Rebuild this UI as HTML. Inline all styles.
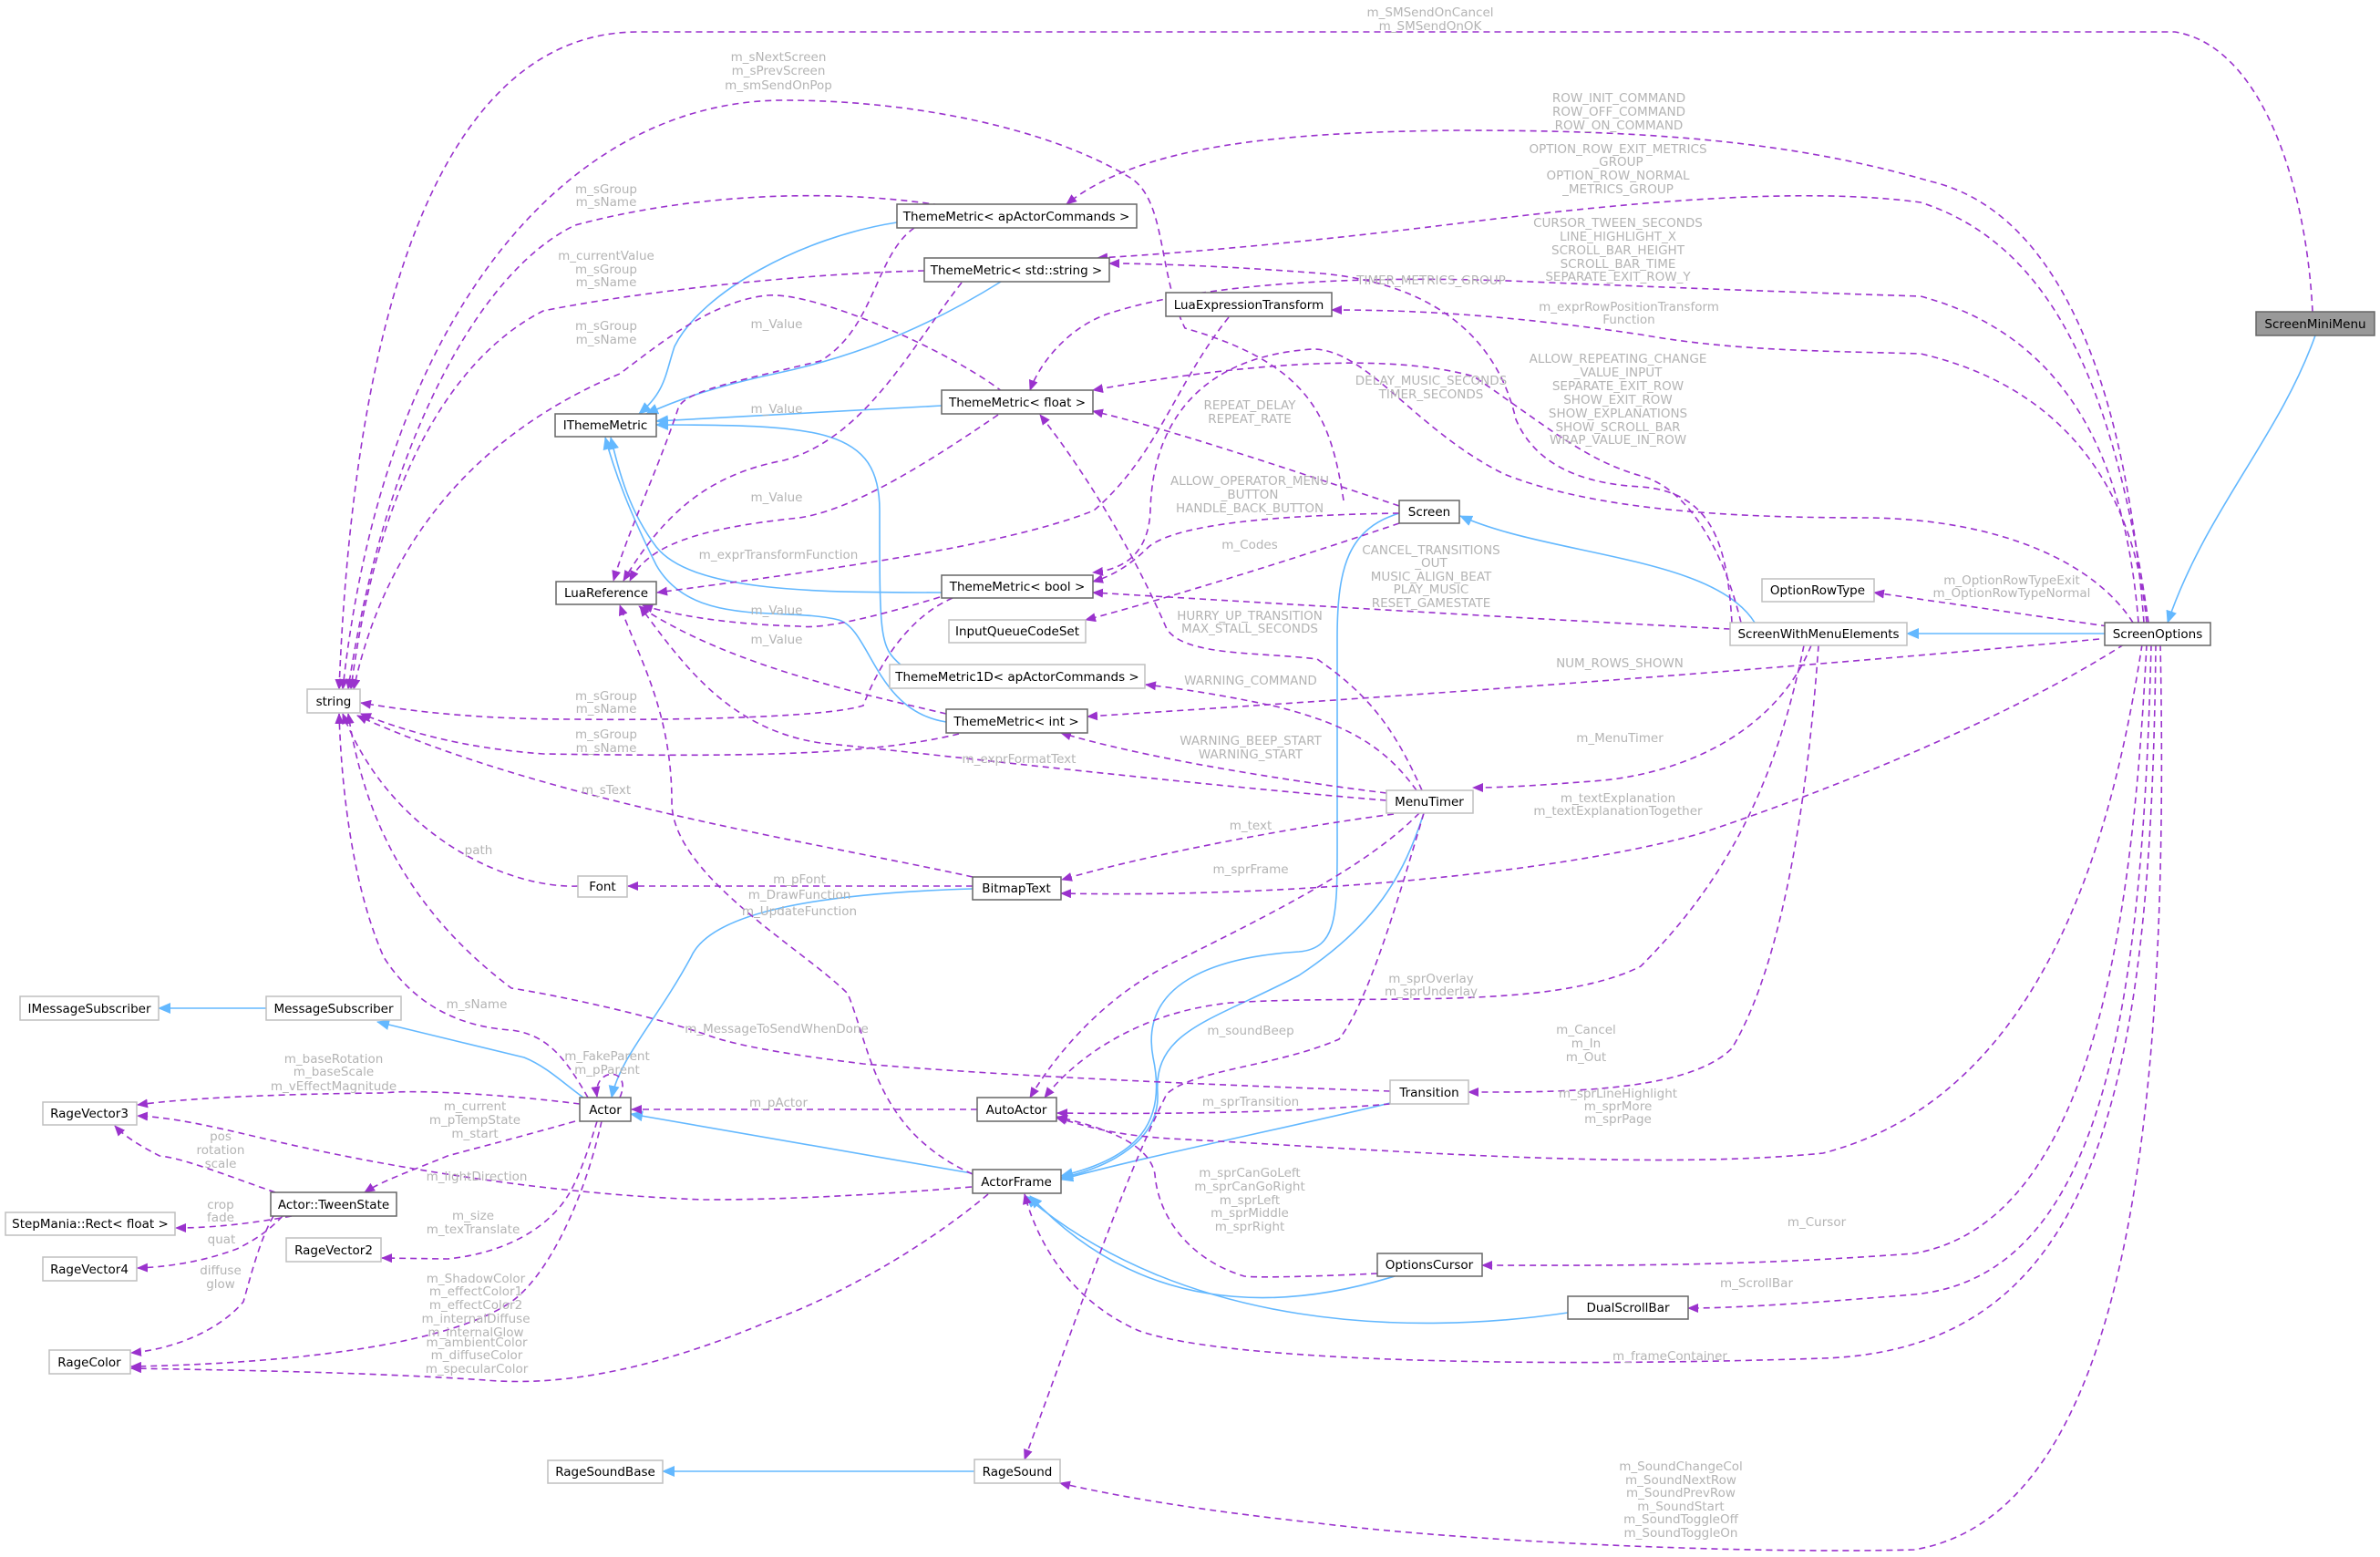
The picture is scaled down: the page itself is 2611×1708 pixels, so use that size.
<!DOCTYPE html>
<html><head><meta charset="utf-8"><style>
html,body{margin:0;padding:0;background:#fff}
svg{display:block}
.n rect{fill:#fff;stroke:#666;stroke-width:1.5}
.n.l rect{stroke:#bfbfbf}
.n text{font-family:"DejaVu Sans","Liberation Sans",sans-serif;font-size:13.5px;fill:#000;text-anchor:middle}
.p{fill:none;stroke:#9a32cd;stroke-width:1.6;stroke-dasharray:7,5;marker-end:url(#ap)}
.b{fill:none;stroke:#63b8ff;stroke-width:1.6;marker-end:url(#ab)}
.lb{font-family:"DejaVu Sans","Liberation Sans",sans-serif;font-size:13.5px;fill:#b4b4b4;text-anchor:middle}
</style></head><body>
<svg width="2611" height="1708" viewBox="0 0 2611 1708" xmlns="http://www.w3.org/2000/svg">
<defs>
<marker id="ap" markerWidth="12" markerHeight="10" refX="11" refY="5" orient="auto" markerUnits="userSpaceOnUse"><path d="M0,0 L12,5 L0,10 z" fill="#9a32cd"/></marker>
<marker id="ab" markerWidth="14" markerHeight="12" refX="13" refY="6" orient="auto" markerUnits="userSpaceOnUse"><path d="M0,0 L14,6 L0,12 z" fill="#63b8ff"/></marker>
</defs>

<!-- blue edges -->
<path class="b" d="M2540,368 C2500,480 2420,560 2378,683"/>
<path class="b" d="M2309,695 L2092,695"/>
<path class="b" d="M1925,683 C1880,610 1700,610 1602,566"/>
<path class="b" d="M1535,563 C1480,580 1467,620 1467,700 L1467,900 C1467,1000 1470,1040 1425,1044 C1330,1050 1250,1080 1265,1160 C1280,1230 1250,1270 1164,1290"/>
<path class="b" d="M1562,892 C1540,960 1510,1014 1425,1070 C1330,1120 1265,1130 1270,1200 C1272,1250 1220,1280 1164,1292"/>
<path class="b" d="M1525,1210 C1400,1240 1250,1270 1164,1294"/>
<path class="b" d="M1530,1400 C1400,1440 1250,1440 1130,1312"/>
<path class="b" d="M1720,1440 C1550,1465 1300,1460 1125,1312"/>
<path class="b" d="M1066,1287 L692,1222"/>
<path class="b" d="M1067,975 C900,980 780,1000 758,1050 C720,1120 680,1160 671,1204"/>
<path class="b" d="M640,1204 C620,1190 600,1170 575,1160 L414,1121"/>
<path class="b" d="M292,1106 L174,1106"/>
<path class="b" d="M984,244 C880,260 770,320 740,380 C730,410 730,430 701,454"/>
<path class="b" d="M1098,309 C1000,370 920,395 850,410 C780,425 740,440 709,454"/>
<path class="b" d="M1033,445 L720,462"/>
<path class="b" d="M1033,650 C900,650 760,650 720,600 C690,560 680,520 670,480"/>
<path class="b" d="M1038,792 C960,780 955,690 920,680 C860,665 760,690 720,620 C690,560 675,520 664,480"/>
<path class="b" d="M989,730 C965,710 965,700 965,560 C965,470 900,466 720,466"/>
<path class="b" d="M1069,1614 L727,1614"/>

<!-- purple edges -->
<path class="p" d="M2537,342 C2530,200 2480,50 2386,35 L700,35 C500,35 390,300 372,756"/>
<path class="p" d="M2352,683 C2330,400 2250,230 2118,199 C1960,153 1800,143 1600,143 C1400,145 1250,160 1170,224"/>
<path class="p" d="M2357,683 C2320,420 2250,268 2107,222 C1980,205 1800,220 1600,245 C1400,270 1260,280 1204,283"/>
<path class="p" d="M2346,683 C2330,480 2252,364 2107,325 C1950,320 1850,316 1700,310 C1500,300 1320,310 1216,344 C1170,360 1140,400 1130,428"/>
<path class="p" d="M2355,683 C2340,520 2250,421 2107,388 C2000,385 1900,385 1800,367 C1650,345 1550,340 1461,340"/>
<path class="p" d="M2340,683 C2300,620 2200,570 2050,568 C1900,568 1750,560 1650,520 C1550,470 1500,383 1440,383 C1330,390 1265,450 1262,560 C1260,610 1230,625 1199,628"/>
<path class="p" d="M2312,687 L2056,650"/>
<path class="p" d="M2303,701 C2000,730 1600,760 1193,786"/>
<path class="p" d="M2330,707 C2200,790 2000,870 1863,915 C1700,960 1400,985 1164,980"/>
<path class="p" d="M2350,707 C2320,900 2250,1200 2000,1265 C1800,1285 1500,1260 1283,1249 C1220,1245 1190,1235 1159,1226"/>
<path class="p" d="M2355,707 C2340,1000 2300,1340 2100,1375 C1900,1390 1750,1388 1626,1388"/>
<path class="p" d="M2360,707 C2350,1100 2310,1400 2100,1420 C1980,1430 1900,1435 1852,1435"/>
<path class="p" d="M2365,707 C2360,1200 2300,1480 2000,1490 C1700,1500 1350,1495 1250,1460 C1180,1430 1140,1370 1124,1310"/>
<path class="p" d="M2370,707 C2380,1200 2340,1660 2100,1700 C1900,1705 1600,1690 1447,1671 C1300,1655 1220,1640 1163,1627"/>
<path class="p" d="M1995,708 C1985,850 1960,1050 1900,1150 C1850,1200 1700,1198 1611,1198"/>
<path class="p" d="M1979,708 C1950,850 1900,960 1800,1060 C1700,1110 1500,1090 1350,1100 C1250,1110 1180,1160 1146,1204"/>
<path class="p" d="M1987,708 C1950,800 1850,850 1747,857 C1680,862 1650,864 1616,864"/>
<path class="p" d="M1898,690 C1700,680 1450,665 1199,650"/>
<path class="p" d="M1910,683 C1890,600 1850,535 1800,522 C1740,505 1700,470 1617,413 C1500,380 1300,410 1199,428"/>
<path class="p" d="M1900,683 C1895,600 1880,540 1800,534 C1720,530 1680,500 1663,460 C1640,360 1560,310 1450,300 C1350,292 1260,289 1217,289"/>
<path class="p" d="M1535,555 C1400,510 1280,470 1199,451"/>
<path class="p" d="M1535,563 C1400,565 1290,575 1260,600 C1240,620 1220,632 1199,638"/>
<path class="p" d="M1535,574 C1400,620 1250,665 1191,680"/>
<path class="p" d="M1474,549 C1460,460 1440,400 1300,360 C1270,300 1280,220 1240,195 C1150,140 1000,110 860,110 C620,110 420,350 376,756"/>
<path class="p" d="M1031,225 C900,205 750,215 631,247 C520,300 420,500 382,756"/>
<path class="p" d="M1014,297 C880,300 700,320 596,341 C480,400 410,560 385,756"/>
<path class="p" d="M1100,430 C1050,390 900,320 842,324 C780,330 720,380 680,410 C560,460 430,560 388,756"/>
<path class="p" d="M1003,250 C960,280 960,360 900,396 C800,420 750,430 744,448 C720,520 690,580 673,637"/>
<path class="p" d="M1055,310 C1000,380 950,480 860,505 C780,520 730,560 684,637"/>
<path class="p" d="M1095,455 C1000,520 930,560 877,568 C760,580 710,600 691,637"/>
<path class="p" d="M1348,348 C1290,420 1270,500 1200,560 C1100,600 900,626 721,650"/>
<path class="p" d="M1031,655 C950,680 900,690 877,687 C800,685 740,675 705,664"/>
<path class="p" d="M1038,783 C940,760 800,730 701,665"/>
<path class="p" d="M1045,656 C990,680 960,740 947,774 C900,789 700,790 631,789 C520,789 450,780 396,771"/>
<path class="p" d="M1052,805 C950,830 800,830 596,827 C500,820 440,800 396,783"/>
<path class="p" d="M1067,962 C900,925 600,880 392,785"/>
<path class="p" d="M634,972 C560,975 430,920 376,783"/>
<path class="p" d="M1067,972 L689,972"/>
<path class="p" d="M1067,1288 C960,1240 955,1150 930,1090 C880,1040 737,960 737,880 C737,780 700,720 680,664"/>
<path class="p" d="M645,1204 C620,1160 600,1135 561,1130 C480,1125 440,1080 421,1050 C390,980 375,880 372,783"/>
<path class="p" d="M680,1204 C695,1170 650,1170 655,1203"/>
<path class="p" d="M636,1211 C550,1200 450,1195 421,1199 C300,1200 200,1205 151,1212"/>
<path class="p" d="M631,1230 C560,1250 520,1260 491,1268 C450,1285 420,1295 400,1308"/>
<path class="p" d="M655,1230 C640,1280 630,1300 624,1310 C600,1350 550,1375 491,1381 L419,1380"/>
<path class="p" d="M660,1230 C640,1320 600,1400 561,1428 C500,1470 350,1495 144,1499"/>
<path class="p" d="M1084,1310 C1000,1380 900,1430 842,1450 C700,1510 600,1520 533,1514 C400,1505 250,1503 144,1501"/>
<path class="p" d="M1066,1302 C900,1316 800,1316 772,1316 C600,1310 420,1280 281,1247 C230,1235 190,1226 151,1224"/>
<path class="p" d="M302,1308 C250,1290 200,1270 175,1268 C150,1255 135,1245 126,1235"/>
<path class="p" d="M320,1334 C260,1345 220,1347 193,1347"/>
<path class="p" d="M310,1334 C295,1350 280,1360 260,1370 C220,1385 180,1390 151,1391"/>
<path class="p" d="M300,1334 C285,1360 275,1400 267,1428 C240,1460 190,1480 144,1484"/>
<path class="p" d="M1072,1217 L693,1217"/>
<path class="p" d="M1525,1197 C1300,1189 1100,1180 947,1167 C850,1155 800,1145 772,1134 C700,1110 600,1090 561,1084 C450,1000 400,900 382,783"/>
<path class="p" d="M1525,1211 C1400,1222 1250,1222 1160,1221"/>
<path class="p" d="M1511,1397 C1450,1400 1380,1402 1365,1400 C1300,1380 1270,1330 1267,1288 C1260,1250 1200,1235 1160,1225"/>
<path class="p" d="M1529,893 C1400,910 1250,940 1165,965"/>
<path class="p" d="M1557,892 C1500,950 1400,1000 1283,1058 C1200,1100 1150,1170 1130,1204"/>
<path class="p" d="M1562,892 C1530,1000 1500,1100 1469,1140 C1400,1170 1310,1173 1280,1200 C1230,1300 1180,1450 1124,1601"/>
<path class="p" d="M1554,867 C1520,820 1480,795 1400,775 C1330,760 1290,755 1257,751"/>
<path class="p" d="M1521,870 C1400,855 1250,830 1164,804"/>
<path class="p" d="M1521,878 C1300,860 1050,830 900,815 C800,800 750,730 702,665"/>
<path class="p" d="M1560,867 C1530,800 1503,763 1445,723 C1380,715 1300,720 1280,690 C1250,620 1200,530 1141,455"/>

<!-- labels -->
<g class="lb">
<text x="1569" y="18">m_SMSendOnCancel</text><text x="1569" y="33">m_SMSendOnOK</text>
<text x="1776" y="112">ROW_INIT_COMMAND</text><text x="1776" y="127">ROW_OFF_COMMAND</text><text x="1776" y="142">ROW_ON_COMMAND</text>
<text x="1775" y="168">OPTION_ROW_EXIT_METRICS</text><text x="1775" y="182">_GROUP</text><text x="1775" y="197">OPTION_ROW_NORMAL</text><text x="1775" y="212">_METRICS_GROUP</text>
<text x="1775" y="249">CURSOR_TWEEN_SECONDS</text><text x="1775" y="264">LINE_HIGHLIGHT_X</text><text x="1775" y="279">SCROLL_BAR_HEIGHT</text><text x="1775" y="294">SCROLL_BAR_TIME</text><text x="1775" y="308">SEPARATE_EXIT_ROW_Y</text>
<text x="1570" y="312">TIMER_METRICS_GROUP</text>
<text x="1787" y="341">m_exprRowPositionTransform</text><text x="1787" y="355">Function</text>
<text x="1775" y="398">ALLOW_REPEATING_CHANGE</text><text x="1775" y="413">_VALUE_INPUT</text><text x="1775" y="428">SEPARATE_EXIT_ROW</text><text x="1775" y="443">SHOW_EXIT_ROW</text><text x="1775" y="458">SHOW_EXPLANATIONS</text><text x="1775" y="473">SHOW_SCROLL_BAR</text><text x="1775" y="487">WRAP_VALUE_IN_ROW</text>
<text x="2207" y="641">m_OptionRowTypeExit</text><text x="2207" y="655">m_OptionRowTypeNormal</text>
<text x="1777" y="732">NUM_ROWS_SHOWN</text>
<text x="1775" y="880">m_textExplanation</text><text x="1775" y="894">m_textExplanationTogether</text>
<text x="1775" y="1204">m_sprLineHighlight</text><text x="1775" y="1218">m_sprMore</text><text x="1775" y="1232">m_sprPage</text>
<text x="1993" y="1345">m_Cursor</text>
<text x="1927" y="1412">m_ScrollBar</text>
<text x="1832" y="1492">m_frameContainer</text>
<text x="1844" y="1613">m_SoundChangeCol</text><text x="1844" y="1628">m_SoundNextRow</text><text x="1844" y="1642">m_SoundPrevRow</text><text x="1844" y="1657">m_SoundStart</text><text x="1844" y="1671">m_SoundToggleOff</text><text x="1844" y="1686">m_SoundToggleOn</text>
<text x="1740" y="1134">m_Cancel</text><text x="1740" y="1149">m_In</text><text x="1740" y="1164">m_Out</text>
<text x="1570" y="1078">m_sprOverlay</text><text x="1570" y="1092">m_sprUnderlay</text>
<text x="1777" y="814">m_MenuTimer</text>
<text x="1570" y="608">CANCEL_TRANSITIONS</text><text x="1570" y="622">_OUT</text><text x="1570" y="637">MUSIC_ALIGN_BEAT</text><text x="1570" y="651">PLAY_MUSIC</text><text x="1570" y="666">RESET_GAMESTATE</text>
<text x="1570" y="422">DELAY_MUSIC_SECONDS</text><text x="1570" y="437">TIMER_SECONDS</text>
<text x="1371" y="449">REPEAT_DELAY</text><text x="1371" y="464">REPEAT_RATE</text>
<text x="1371" y="532">ALLOW_OPERATOR_MENU</text><text x="1371" y="547">_BUTTON</text><text x="1371" y="562">HANDLE_BACK_BUTTON</text>
<text x="1371" y="602">m_Codes</text>
<text x="1371" y="680">HURRY_UP_TRANSITION</text><text x="1371" y="694">MAX_STALL_SECONDS</text>
<text x="1372" y="751">WARNING_COMMAND</text>
<text x="1372" y="817">WARNING_BEEP_START</text><text x="1372" y="832">WARNING_START</text>
<text x="1118" y="837">m_exprFormatText</text>
<text x="1372" y="910">m_text</text>
<text x="1372" y="958">m_sprFrame</text>
<text x="1372" y="1135">m_soundBeep</text>
<text x="1372" y="1213">m_sprTransition</text>
<text x="1371" y="1291">m_sprCanGoLeft</text><text x="1371" y="1306">m_sprCanGoRight</text><text x="1371" y="1321">m_sprLeft</text><text x="1371" y="1335">m_sprMiddle</text><text x="1371" y="1350">m_sprRight</text>
<text x="854" y="67">m_sNextScreen</text><text x="854" y="82">m_sPrevScreen</text><text x="854" y="98">m_smSendOnPop</text>
<text x="665" y="212">m_sGroup</text><text x="665" y="226">m_sName</text>
<text x="665" y="285">m_currentValue</text><text x="665" y="300">m_sGroup</text><text x="665" y="314">m_sName</text>
<text x="665" y="362">m_sGroup</text><text x="665" y="377">m_sName</text>
<text x="852" y="360">m_Value</text>
<text x="852" y="453">m_Value</text>
<text x="852" y="550">m_Value</text>
<text x="854" y="613">m_exprTransformFunction</text>
<text x="852" y="674">m_Value</text>
<text x="852" y="706">m_Value</text>
<text x="665" y="768">m_sGroup</text><text x="665" y="782">m_sName</text>
<text x="665" y="810">m_sGroup</text><text x="665" y="825">m_sName</text>
<text x="665" y="871">m_sText</text>
<text x="525" y="937">path</text>
<text x="877" y="969">m_pFont</text><text x="877" y="986">m_DrawFunction</text><text x="877" y="1004">m_UpdateFunction</text>
<text x="523" y="1106">m_sName</text>
<text x="852" y="1133">m_MessageToSendWhenDone</text>
<text x="666" y="1163">m_FakeParent</text><text x="666" y="1178">m_pParent</text>
<text x="366" y="1166">m_baseRotation</text><text x="366" y="1180">m_baseScale</text><text x="366" y="1196">m_vEffectMagnitude</text>
<text x="521" y="1218">m_current</text><text x="521" y="1233">m_pTempState</text><text x="521" y="1248">m_start</text>
<text x="854" y="1214">m_pActor</text>
<text x="523" y="1295">m_lightDirection</text>
<text x="242" y="1251">pos</text><text x="242" y="1266">rotation</text><text x="242" y="1281">scale</text>
<text x="242" y="1326">crop</text><text x="242" y="1340">fade</text>
<text x="243" y="1364">quat</text>
<text x="242" y="1398">diffuse</text><text x="242" y="1413">glow</text>
<text x="519" y="1338">m_size</text><text x="519" y="1353">m_texTranslate</text>
<text x="522" y="1407">m_ShadowColor</text><text x="522" y="1421">m_effectColor1</text><text x="522" y="1436">m_effectColor2</text><text x="522" y="1451">m_internalDiffuse</text><text x="522" y="1466">m_internalGlow</text>
<text x="523" y="1477">m_ambientColor</text><text x="523" y="1491">m_diffuseColor</text><text x="523" y="1506">m_specularColor</text>
</g>

<!-- nodes -->
<g class="n"><rect x="2475" y="342" width="130" height="26" style="fill:#999"/><text x="2540" y="360">ScreenMiniMenu</text></g>
<g class="n"><rect x="2309" y="683" width="116" height="25"/><text x="2367" y="700">ScreenOptions</text></g>
<g class="n l"><rect x="1898" y="683" width="194" height="25"/><text x="1995" y="700">ScreenWithMenuElements</text></g>
<g class="n l"><rect x="1933" y="635" width="123" height="25"/><text x="1994" y="652">OptionRowType</text></g>
<g class="n"><rect x="1535" y="549" width="66" height="25"/><text x="1568" y="566">Screen</text></g>
<g class="n l"><rect x="1521" y="867" width="95" height="25"/><text x="1568" y="884">MenuTimer</text></g>
<g class="n"><rect x="984" y="224" width="263" height="26"/><text x="1115" y="242">ThemeMetric&lt; apActorCommands &gt;</text></g>
<g class="n"><rect x="1014" y="283" width="203" height="26"/><text x="1115" y="301">ThemeMetric&lt; std::string &gt;</text></g>
<g class="n"><rect x="1279" y="321" width="182" height="26"/><text x="1370" y="339">LuaExpressionTransform</text></g>
<g class="n"><rect x="1033" y="428" width="166" height="26"/><text x="1116" y="446">ThemeMetric&lt; float &gt;</text></g>
<g class="n"><rect x="1033" y="631" width="166" height="25"/><text x="1116" y="648">ThemeMetric&lt; bool &gt;</text></g>
<g class="n l"><rect x="1041" y="680" width="150" height="25"/><text x="1116" y="697">InputQueueCodeSet</text></g>
<g class="n l"><rect x="976" y="729" width="280" height="26"/><text x="1116" y="747">ThemeMetric1D&lt; apActorCommands &gt;</text></g>
<g class="n"><rect x="1038" y="778" width="155" height="26"/><text x="1115" y="796">ThemeMetric&lt; int &gt;</text></g>
<g class="n"><rect x="609" y="454" width="111" height="25"/><text x="664" y="471">IThemeMetric</text></g>
<g class="n"><rect x="610" y="638" width="110" height="25"/><text x="665" y="655">LuaReference</text></g>
<g class="n l"><rect x="337" y="756" width="58" height="26"/><text x="366" y="774">string</text></g>
<g class="n l"><rect x="634" y="961" width="54" height="23"/><text x="661" y="977">Font</text></g>
<g class="n"><rect x="1067" y="962" width="97" height="25"/><text x="1115" y="979">BitmapText</text></g>
<g class="n"><rect x="1072" y="1204" width="87" height="26"/><text x="1115" y="1222">AutoActor</text></g>
<g class="n l"><rect x="1525" y="1185" width="86" height="26"/><text x="1568" y="1203">Transition</text></g>
<g class="n"><rect x="1067" y="1283" width="97" height="26"/><text x="1115" y="1301">ActorFrame</text></g>
<g class="n"><rect x="1511" y="1375" width="115" height="25"/><text x="1568" y="1392">OptionsCursor</text></g>
<g class="n"><rect x="1720" y="1422" width="132" height="25"/><text x="1786" y="1439">DualScrollBar</text></g>
<g class="n l"><rect x="1069" y="1601" width="94" height="26"/><text x="1116" y="1619">RageSound</text></g>
<g class="n l"><rect x="601" y="1602" width="126" height="25"/><text x="664" y="1619">RageSoundBase</text></g>
<g class="n l"><rect x="22" y="1093" width="152" height="26"/><text x="98" y="1111">IMessageSubscriber</text></g>
<g class="n l"><rect x="292" y="1093" width="148" height="26"/><text x="366" y="1111">MessageSubscriber</text></g>
<g class="n l"><rect x="47" y="1209" width="103" height="25"/><text x="98" y="1226">RageVector3</text></g>
<g class="n"><rect x="636" y="1204" width="56" height="26"/><text x="664" y="1222">Actor</text></g>
<g class="n"><rect x="297" y="1308" width="138" height="26"/><text x="366" y="1326">Actor::TweenState</text></g>
<g class="n l"><rect x="6" y="1330" width="186" height="25"/><text x="99" y="1347">StepMania::Rect&lt; float &gt;</text></g>
<g class="n l"><rect x="314" y="1358" width="104" height="26"/><text x="366" y="1376">RageVector2</text></g>
<g class="n l"><rect x="47" y="1379" width="103" height="26"/><text x="98" y="1397">RageVector4</text></g>
<g class="n l"><rect x="54" y="1481" width="89" height="26"/><text x="98" y="1499">RageColor</text></g>
</svg>
</body></html>
